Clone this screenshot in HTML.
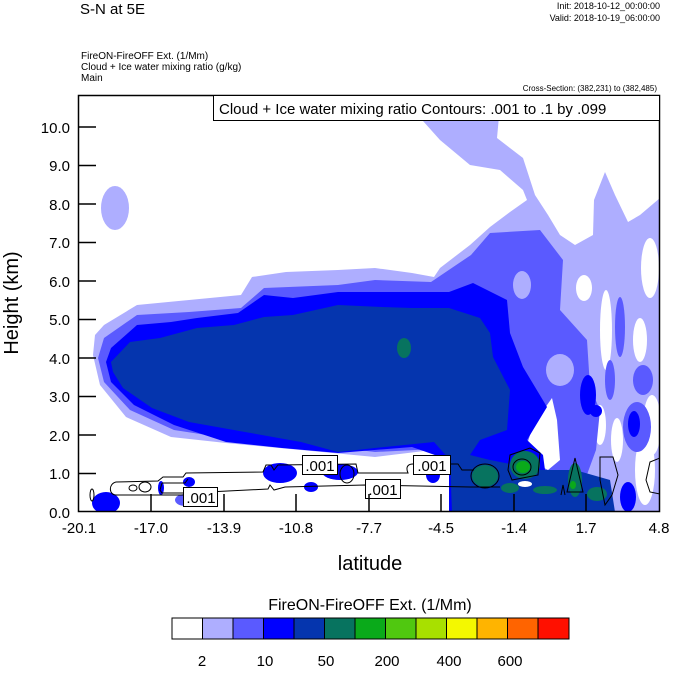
<!DOCTYPE html>
<html><head><meta charset="utf-8"><style>
body{margin:0;background:#fff;width:674px;height:668px;overflow:hidden;font-family:"Liberation Sans",sans-serif}
</style></head><body>
<svg width="674" height="668" xmlns="http://www.w3.org/2000/svg" font-family="Liberation Sans, sans-serif">
<text x="80" y="14" font-size="15">S-N at 5E</text>
<text x="660" y="9" font-size="9" text-anchor="end">Init: 2018-10-12_00:00:00</text>
<text x="660" y="21" font-size="9" text-anchor="end">Valid: 2018-10-19_06:00:00</text>
<text x="81" y="59" font-size="10">FireON-FireOFF Ext.   (1/Mm)</text>
<text x="81" y="70" font-size="10">Cloud + Ice water mixing ratio    (g/kg)</text>
<text x="81" y="81" font-size="10">Main</text>
<text x="657" y="91" font-size="8" text-anchor="end">Cross-Section: (382,231) to (382,485)</text>
<defs><clipPath id="pc"><rect x="78" y="95" width="582" height="417"/></clipPath></defs>
<g clip-path="url(#pc)">
<ellipse cx="115" cy="208" rx="14" ry="22" fill="#aeaeff"/>
<polygon fill="#aeaeff" points="95,335 104,325 137,305 189,300 241,295 252,277 286,272 338,270 375,268 412,273 434,277 440,268 470,245 490,227 510,212 527,200 523,190 500,170 470,165 440,140 423,121 423,95 501,95 497,138 523,158 535,195 548,215 560,235 575,245 593,235 594,200 605,172 615,195 628,222 640,215 660,198 660,512 449,512 449,448 375,457 301,450 226,443 171,437 126,417 100,385 93,355"/>
<g fill="#fff">
<ellipse cx="584" cy="288" rx="8" ry="13"/>
<ellipse cx="606" cy="330" rx="6" ry="40"/>
<ellipse cx="650" cy="268" rx="9" ry="30"/>
<ellipse cx="640" cy="340" rx="7" ry="22"/>
<ellipse cx="652" cy="425" rx="9" ry="30"/>
<ellipse cx="645" cy="470" rx="10" ry="35"/>
<ellipse cx="617" cy="440" rx="6" ry="22"/>
<ellipse cx="600" cy="425" rx="6" ry="20"/>
</g>
<polygon fill="#5a5aff" points="104,338 137,315 189,312 241,308 264,288 338,285 375,280 431,282 471,255 490,233 540,230 563,260 560,310 587,340 590,387 600,410 596,450 585,480 560,512 449,512 456,448 375,452 301,443 226,438 174,430 130,410 104,382 98,358"/>
<ellipse cx="522" cy="285" rx="9" ry="14" fill="#aeaeff"/>
<ellipse cx="560" cy="370" rx="14" ry="16" fill="#aeaeff"/>
<polygon fill="#fff" points="523,457 530,435 540,415 552,398 557,420 560,460 548,470"/>
<g fill="#5a5aff">
<ellipse cx="620" cy="327" rx="5" ry="30"/><ellipse cx="643" cy="380" rx="10" ry="15"/>
<ellipse cx="637" cy="427" rx="14" ry="25"/><ellipse cx="610" cy="380" rx="5" ry="20"/>
</g>
<polygon fill="#0000ff" points="111,348 137,325 171,322 197,318 238,313 264,295 293,298 338,292 382,292 449,292 473,283 507,300 510,333 523,367 547,407 527,440 543,455 545,470 530,512 449,512 449,460 412,447 338,453 282,448 226,442 174,425 134,405 111,382 106,362"/>
<ellipse cx="588" cy="395" rx="8" ry="20" fill="#0000ff"/>
<ellipse cx="634" cy="424" rx="6" ry="13" fill="#0000ff"/>
<ellipse cx="596" cy="411" rx="6" ry="6" fill="#0000ff"/>
<polygon fill="#0535ae" points="111,362 130,342 160,338 197,328 234,325 264,317 293,315 338,305 382,307 412,308 449,308 480,318 490,333 493,357 510,390 507,430 480,440 470,455 490,460 540,470 575,470 610,480 615,512 452,512 450,460 434,442 375,448 338,452 301,442 245,432 189,422 152,408 123,388 113,372"/>
<ellipse cx="404" cy="348" rx="7" ry="10" fill="#07735f"/>
<g fill="#0000ff">
<ellipse cx="106" cy="503" rx="14" ry="11"/><ellipse cx="161" cy="488" rx="3" ry="7"/>
<ellipse cx="280" cy="473" rx="17" ry="10"/><ellipse cx="311" cy="487" rx="7" ry="5"/>
<ellipse cx="340" cy="472" rx="18" ry="8"/><ellipse cx="433" cy="475" rx="7" ry="8"/>
<ellipse cx="628" cy="497" rx="8" ry="15"/><ellipse cx="189" cy="482" rx="6" ry="5"/>
</g>
<ellipse cx="185" cy="500" rx="10" ry="6" fill="#5a5aff"/>
<g fill="#07735f">
<ellipse cx="485" cy="476" rx="13" ry="11"/><ellipse cx="525" cy="465" rx="15" ry="14"/>
<ellipse cx="510" cy="488" rx="9" ry="5"/><ellipse cx="575" cy="480" rx="7" ry="17"/>
<ellipse cx="597" cy="494" rx="10" ry="7"/><ellipse cx="545" cy="490" rx="12" ry="4"/>
</g>
<ellipse cx="523" cy="467" rx="7" ry="6" fill="#0aaa1a"/>
<ellipse cx="573" cy="485" rx="3" ry="4" fill="#0aaa1a"/>
<ellipse cx="525" cy="484" rx="7" ry="3" fill="#fff"/>
<g fill="none" stroke="#000" stroke-width="1">
<path d="M116,495 C109,495 108,484 116,482 L158,481 L163,477 L183,477 L186,473 L263,472 L266,465 L271,465 L274,470 L278,465 L356,464 L358,473 L408,473 C405,466 409,464 413,464 L458,464 L462,470 L474,470 M116,495 L185,495 L188,493 L268,489 L270,485 L274,490 L285,487 L365,485 L470,487 L500,487"/>
<path d="M162,483 L185,483 L188,479 M162,483 L160,490 L162,493 L185,493"/>
<ellipse cx="133" cy="488" rx="4" ry="3"/><ellipse cx="145" cy="487" rx="6" ry="5"/>
<ellipse cx="92" cy="495" rx="2" ry="6"/>
<ellipse cx="347" cy="474" rx="7" ry="9"/>
<ellipse cx="485" cy="476" rx="14" ry="12"/>
<path d="M510,455 L530,448 L540,453 L538,475 L512,480 L508,470 Z"/>
<ellipse cx="522" cy="467" rx="9" ry="8"/>
<path d="M567,492 L575,458 L583,492 Z"/>
<path d="M600,457 L613,457 L618,475 L612,495 L605,505 L600,480 Z"/>
<path d="M660,458 L650,462 L646,480 L650,492 L660,494"/>
<path d="M561,495 L563,485 L565,495"/>
</g>
</g>
<g font-size="15" text-anchor="middle">
<rect x="183.5" y="487.5" width="34" height="19" fill="#fff" stroke="#000"/>
<rect x="302.5" y="455.5" width="35" height="19" fill="#fff" stroke="#000"/>
<rect x="365.5" y="479.5" width="35" height="19" fill="#fff" stroke="#000"/>
<rect x="413.5" y="455.5" width="37" height="19" fill="#fff" stroke="#000"/>
<text x="201" y="503">.001</text><text x="320" y="471">.001</text>
<text x="383" y="495">.001</text><text x="432" y="471">.001</text>
</g>
<rect x="78.5" y="95.5" width="581" height="416" fill="none" stroke="#000" stroke-width="1.5"/>
<rect x="213.5" y="95.5" width="446" height="25" fill="#fff" stroke="#000"/>
<text x="219" y="114" font-size="15">Cloud + Ice water mixing ratio Contours: .001 to .1 by .099</text>
<g stroke="#000" stroke-width="1.5">
<line x1="78" y1="473.5" x2="96" y2="473.5"/><line x1="78" y1="435" x2="96" y2="435"/><line x1="78" y1="396.5" x2="96" y2="396.5"/><line x1="78" y1="358" x2="96" y2="358"/><line x1="78" y1="319.5" x2="96" y2="319.5"/><line x1="78" y1="281" x2="96" y2="281"/><line x1="78" y1="242.5" x2="96" y2="242.5"/><line x1="78" y1="204" x2="96" y2="204"/><line x1="78" y1="165.5" x2="96" y2="165.5"/><line x1="78" y1="127" x2="96" y2="127"/>
<line x1="151" y1="512" x2="151" y2="494"/><line x1="224" y1="512" x2="224" y2="494"/><line x1="296" y1="512" x2="296" y2="494"/><line x1="369" y1="512" x2="369" y2="494"/><line x1="441" y1="512" x2="441" y2="494"/><line x1="514" y1="512" x2="514" y2="494"/><line x1="586" y1="512" x2="586" y2="494"/>
</g>
<g font-size="15" text-anchor="end">
<text x="70" y="518">0.0</text><text x="70" y="479">1.0</text><text x="70" y="441">2.0</text><text x="70" y="402">3.0</text><text x="70" y="364">4.0</text><text x="70" y="325">5.0</text><text x="70" y="287">6.0</text><text x="70" y="248">7.0</text><text x="70" y="210">8.0</text><text x="70" y="171">9.0</text><text x="70" y="133">10.0</text>
</g>
<g font-size="15" text-anchor="middle">
<text x="79" y="533">-20.1</text><text x="151" y="533">-17.0</text><text x="224" y="533">-13.9</text><text x="296" y="533">-10.8</text><text x="369" y="533">-7.7</text><text x="441" y="533">-4.5</text><text x="514" y="533">-1.4</text><text x="586" y="533">1.7</text><text x="659" y="533">4.8</text>
</g>
<text x="370" y="570" font-size="20" text-anchor="middle">latitude</text>
<text transform="translate(18,303) rotate(-90)" font-size="20" text-anchor="middle">Height (km)</text>
<text x="370" y="610" font-size="16" text-anchor="middle">FireON-FireOFF Ext.  (1/Mm)</text>
<g stroke="#000" stroke-width="1">
<rect x="172" y="618" width="30.5" height="21" fill="#fff"/><rect x="202.5" y="618" width="30.5" height="21" fill="#aeaeff"/><rect x="233" y="618" width="30.5" height="21" fill="#5a5aff"/><rect x="263.5" y="618" width="30.5" height="21" fill="#0000ff"/><rect x="294" y="618" width="30.5" height="21" fill="#0535ae"/><rect x="324.5" y="618" width="30.5" height="21" fill="#07735f"/><rect x="355" y="618" width="30.5" height="21" fill="#0aaa1a"/><rect x="385.5" y="618" width="30.5" height="21" fill="#50c810"/><rect x="416" y="618" width="30.5" height="21" fill="#a8e000"/><rect x="446.5" y="618" width="30.5" height="21" fill="#f4f800"/><rect x="477" y="618" width="30.5" height="21" fill="#ffb400"/><rect x="507.5" y="618" width="30.5" height="21" fill="#ff6400"/><rect x="538" y="618" width="31" height="21" fill="#ff1000"/>
</g>
<g font-size="15" text-anchor="middle">
<text x="202" y="666">2</text><text x="265" y="666">10</text><text x="326" y="666">50</text><text x="387" y="666">200</text><text x="449" y="666">400</text><text x="510" y="666">600</text>
</g>
</svg>
</body></html>
